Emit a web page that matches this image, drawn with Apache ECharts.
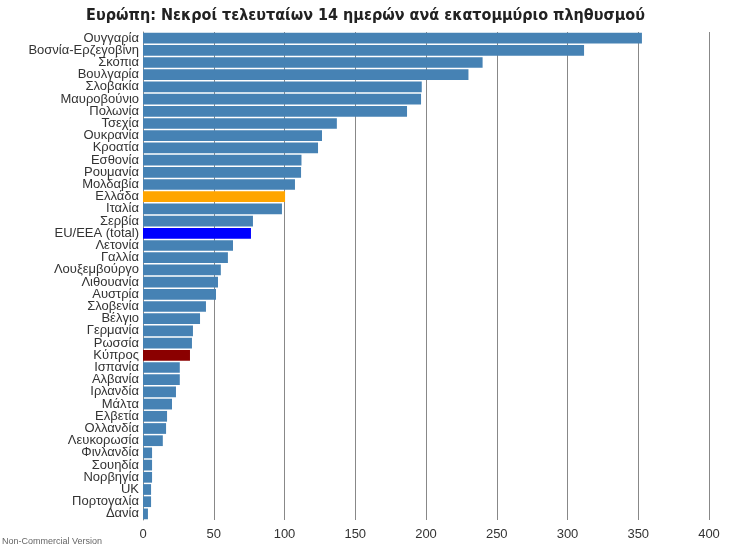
<!DOCTYPE html>
<html><head><meta charset="utf-8">
<script src="https://cdn.jsdelivr.net/npm/echarts@6/dist/echarts.min.js"></script>
<style>html,body{margin:0;padding:0}#c{width:731px;height:550px}</style>
</head><body><div id="c"></div>
<script>
var countries = ['Ουγγαρία','Βοσνία-Ερζεγοβίνη','Σκόπια','Βουλγαρία','Σλοβακία','Μαυροβούνιο','Πολωνία','Τσεχία','Ουκρανία','Κροατία','Εσθονία','Ρουμανία','Μολδαβία','Ελλάδα','Ιταλία','Σερβία','EU/EEA (total)','Λετονία','Γαλλία','Λουξεμβούργο','Λιθουανία','Αυστρία','Σλοβενία','Βέλγιο','Γερμανία','Ρωσσία','Κύπρος','Ισπανία','Αλβανία','Ιρλανδία','Μάλτα','Ελβετία','Ολλανδία','Λευκορωσία','Φινλανδία','Σουηδία','Νορβηγία','UK','Πορτογαλία','Δανία'];
var deaths = [352.6,311.7,240,230,197,196.5,186.6,137,126.5,123.7,112,111.7,107.4,100.4,98.2,77.7,76.3,63.6,60,55,53,51.6,44.5,40.3,35.3,34.6,33.2,26,26,23.3,20.5,17,16.3,14,6.4,6.4,6.4,5.7,5.7,3.5];
var highlight = {'Ελλάδα':'#ffa500','EU/EEA (total)':'#0000ff','Κύπρος':'#8b0000'};

var chart = echarts.init(document.getElementById('c'));
chart.setOption({
    animation: false,
    title: {
        text: 'Ευρώπη: Νεκροί τελευταίων 14 ημερών ανά εκατομμύριο πληθυσμού',
        left: 'center', top: 3,
        textStyle: {fontFamily: 'DejaVu Sans Condensed', fontWeight: 'bold', fontSize: 16, color: '#222'}
    },
    graphic: [{type: 'text', left: 2, bottom: 4, style: {text: 'Non-Commercial Version', fill: '#666', fontSize: 9, fontFamily: 'Arial'}}],
    grid: {left: 143, right: 22, top: 32, bottom: 30},
    xAxis: {
        type: 'value', min: 0, max: 400, interval: 50, position: 'bottom',
        axisLine: {show: false}, axisTick: {show: false},
        axisLabel: {color: '#333', fontSize: 13, fontFamily: 'Arial'},
        splitLine: {lineStyle: {color: '#888'}}
    },
    yAxis: {
        type: 'category', data: countries, inverse: true,
        axisLine: {show: true, lineStyle: {color: '#888'}}, axisTick: {show: false},
        axisLabel: {color: '#333', fontSize: 13, fontFamily: 'Arial', margin: 4, interval: 0}
    },
    series: [{
        type: 'bar', data: deaths, barCategoryGap: '12%',
        itemStyle: {color: function (p) { return highlight[countries[p.dataIndex]] || '#4682b4'; }}
    }]
});
</script></body></html>
